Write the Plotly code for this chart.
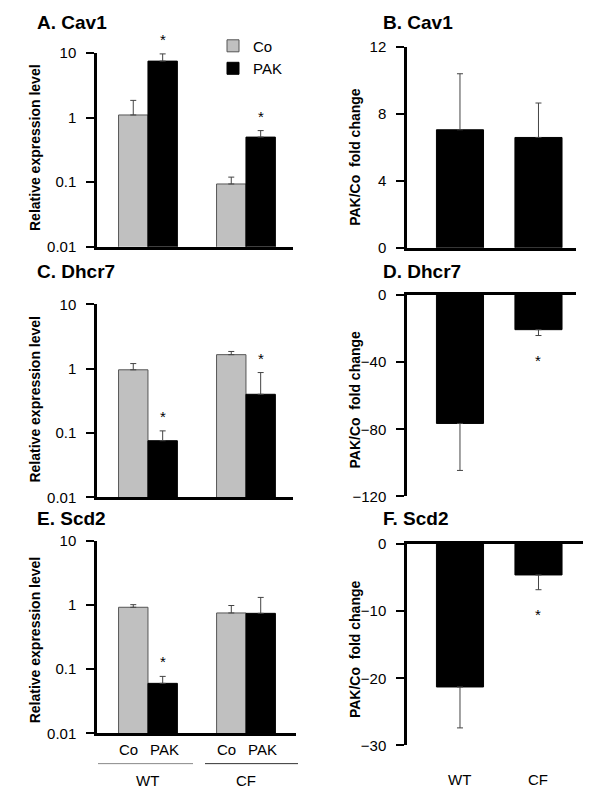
import math
import plotly.graph_objects as go

# ---------------- data ----------------
groups = ["WT", "CF"]
treatments = ["Co", "PAK"]

cav1_co = [1.1, 0.094]
cav1_co_err = [0.75, 0.026]
cav1_pak = [7.5, 0.50]
cav1_pak_err = [2.2, 0.13]

dhcr7_co = [0.96, 1.65]
dhcr7_co_err = [0.24, 0.20]
dhcr7_pak = [0.076, 0.40]
dhcr7_pak_err = [0.032, 0.47]

scd2_co = [0.92, 0.75]
scd2_co_err = [0.09, 0.23]
scd2_pak = [0.060, 0.74]
scd2_pak_err = [0.017, 0.57]

cav1_fold = [7.06, 6.6]
cav1_fold_err = [3.35, 2.06]
dhcr7_fold = [-76.5, -20.6]
dhcr7_fold_err = [28.0, 3.5]
scd2_fold = [-21.3, -4.6]
scd2_fold_err = [6.1, 2.2]

# significance (*) flags
cav1_pak_sig = [True, True]
dhcr7_pak_sig = [True, True]
scd2_pak_sig = [True, False]
cav1_fold_sig = [False, False]
dhcr7_fold_sig = [False, True]
scd2_fold_sig = [False, True]

log_ticks = [0.01, 0.1, 1, 10]
log_ticktext = ["0.01", "0.1", "1", "10"]

# ---------------- style ----------------
W, H = 600, 801
FONT = "Liberation Sans, Arial, sans-serif"
GRAY = "#c0c0c0"
ERRC = "#444444"
BARGAP = 0.4
OFF = (1 - BARGAP) / 4


def px_x(p):
    return p / W


def px_y(p):
    return 1 - p / H


fig = go.Figure()


def add_pair(co, co_err, pak, pak_err, ax, legend):
    xa, ya = ax
    fig.add_trace(go.Bar(
        x=groups, y=co, name="Co", marker=dict(color=GRAY, line=dict(color="#555555", width=1)),
        error_y=dict(type="data", array=co_err, arrayminus=[0] * len(co), symmetric=False,
                     color=ERRC, thickness=1, width=3),
        xaxis=xa, yaxis=ya, showlegend=legend))
    fig.add_trace(go.Bar(
        x=groups, y=pak, name="PAK", marker=dict(color="black", line=dict(color="black", width=1)),
        error_y=dict(type="data", array=pak_err, arrayminus=[0] * len(pak), symmetric=False,
                     color=ERRC, thickness=1, width=3),
        xaxis=xa, yaxis=ya, showlegend=legend))


def add_fold(vals, errs, ax):
    xa, ya = ax
    up = [e if v > 0 else 0 for v, e in zip(vals, errs)]
    down = [e if v < 0 else 0 for v, e in zip(vals, errs)]
    fig.add_trace(go.Bar(
        x=groups, y=vals, name="PAK/Co", marker=dict(color="black", line=dict(color="black", width=1)),
        error_y=dict(type="data", array=up, arrayminus=down, symmetric=False,
                     color=ERRC, thickness=1, width=3),
        xaxis=xa, yaxis=ya, showlegend=False))


add_pair(cav1_co, cav1_co_err, cav1_pak, cav1_pak_err, ("x", "y"), True)
add_fold(cav1_fold, cav1_fold_err, ("x2", "y2"))
add_pair(dhcr7_co, dhcr7_co_err, dhcr7_pak, dhcr7_pak_err, ("x3", "y3"), False)
add_fold(dhcr7_fold, dhcr7_fold_err, ("x4", "y4"))
add_pair(scd2_co, scd2_co_err, scd2_pak, scd2_pak_err, ("x5", "y5"), False)
add_fold(scd2_fold, scd2_fold_err, ("x6", "y6"))

annotations = []
shapes = []


def star_log(vals, errs, sig, xref, yref):
    for i, (v, e, s) in enumerate(zip(vals, errs, sig)):
        if s:
            annotations.append(dict(x=i + OFF, y=math.log10(v + e), xref=xref, yref=yref,
                                    text="*", showarrow=False, yanchor="bottom", yshift=4,
                                    font=dict(size=15, color="black", family=FONT)))


def star_fold(vals, errs, sig, xref, yref):
    for i, (v, e, s) in enumerate(zip(vals, errs, sig)):
        if s:
            if v < 0:
                annotations.append(dict(x=i, y=v - e, xref=xref, yref=yref, text="*",
                                        showarrow=False, yanchor="top", yshift=-14,
                                        font=dict(size=15, color="black", family=FONT)))
            else:
                annotations.append(dict(x=i, y=v + e, xref=xref, yref=yref, text="*",
                                        showarrow=False, yanchor="bottom", yshift=4,
                                        font=dict(size=15, color="black", family=FONT)))


star_log(cav1_pak, cav1_pak_err, cav1_pak_sig, "x", "y")
star_log(dhcr7_pak, dhcr7_pak_err, dhcr7_pak_sig, "x3", "y3")
star_log(scd2_pak, scd2_pak_err, scd2_pak_sig, "x5", "y5")
star_fold(cav1_fold, cav1_fold_err, cav1_fold_sig, "x2", "y2")
star_fold(dhcr7_fold, dhcr7_fold_err, dhcr7_fold_sig, "x4", "y4")
star_fold(scd2_fold, scd2_fold_err, scd2_fold_sig, "x6", "y6")

# panel titles
titles = [("A. Cav1", 35, 14), ("B. Cav1", 381, 14), ("C. Dhcr7", 35, 268),
          ("D. Dhcr7", 381, 268), ("E. Scd2", 35, 521), ("F. Scd2", 381, 521)]
for t, xp, yp in titles:
    annotations.append(dict(x=px_x(xp), y=px_y(yp), xref="paper", yref="paper", text="<b>%s</b>" % t,
                            showarrow=False, xanchor="left", yanchor="middle",
                            font=dict(size=19, color="black", family=FONT)))

# y titles
ytitles = [("Relative expression level", 35, 142), ("Relative expression level", 35, 399),
           ("Relative expression level", 35, 645), ("PAK/Co  fold change", 355, 151),
           ("PAK/Co  fold change", 355, 399), ("PAK/Co  fold change", 355, 654)]
for t, xp, yp in ytitles:
    annotations.append(dict(x=px_x(xp), y=px_y(yp), xref="paper", yref="paper", text="<b>%s</b>" % t,
                            showarrow=False, textangle=-90, xanchor="center", yanchor="middle",
                            font=dict(size=14, color="black", family=FONT)))

# Co / PAK labels under E
lab_font = dict(size=15, color="black", family=FONT)
for i, g in enumerate(groups):
    annotations.append(dict(x=i - OFF, y=px_y(757), xref="x5", yref="paper", text=treatments[0],
                            showarrow=False, xanchor="center", yanchor="middle", xshift=-5,
                            font=lab_font))
    annotations.append(dict(x=i + OFF, y=px_y(757), xref="x5", yref="paper", text=treatments[1],
                            showarrow=False, xanchor="center", yanchor="middle", xshift=2,
                            font=lab_font))
    annotations.append(dict(x=i, y=px_y(788), xref="x5", yref="paper", text=g,
                            showarrow=False, xanchor="center", yanchor="middle", font=lab_font))
    annotations.append(dict(x=i, y=px_y(787), xref="x6", yref="paper", text=g,
                            showarrow=False, xanchor="center", yanchor="middle", font=lab_font))

shapes.append(dict(type="line", xref="paper", yref="paper", x0=px_x(98), x1=px_x(193),
                   y0=px_y(771), y1=px_y(771), line=dict(color="#888888", width=1)))
shapes.append(dict(type="line", xref="paper", yref="paper", x0=px_x(205), x1=px_x(298),
                   y0=px_y(771), y1=px_y(771), line=dict(color="#333333", width=1)))

AXL = dict(showline=True, linecolor="black", linewidth=2.5, zeroline=False, showgrid=False,
           fixedrange=True)
tickfont = dict(size=15, color="black", family=FONT)


def log_y(dom, xa):
    return dict(AXL, type="log", range=[-2, 1], domain=dom, anchor=xa, tickvals=log_ticks,
                ticktext=log_ticktext, ticks="outside", ticklen=8, tickwidth=2, tickcolor="black",
                tickfont=tickfont, ticklabelstandoff=7)


def lin_y(dom, xa, rng, dt):
    return dict(AXL, type="linear", range=rng, domain=dom, anchor=xa, dtick=dt, tick0=0,
                ticks="outside", ticklen=8, tickwidth=2, tickcolor="black",
                tickfont=tickfont, ticklabelstandoff=7)


def cat_x(dom, ya, rng, side="bottom"):
    return dict(AXL, type="category", domain=dom, anchor=ya, range=rng, showticklabels=False,
                ticks="", side=side)


LX = [px_x(97), px_x(293)]
RX = [px_x(407), px_x(576)]
RXF = [px_x(407), px_x(583)]
LR = [-0.52, 1.48]
RR = [-0.675, 1.478]
RRF = [-0.675, 1.567]

fig.update_layout(
    width=W, height=H,
    margin=dict(l=0, r=0, t=0, b=0),
    paper_bgcolor="white", plot_bgcolor="white",
    barmode="group", bargap=BARGAP, bargroupgap=0,
    font=dict(family=FONT, color="black"),
    xaxis=cat_x(LX, "y", LR),
    yaxis=log_y([px_y(243), px_y(45)], "x"),
    xaxis2=cat_x(RX, "y2", RR),
    yaxis2=lin_y([px_y(244), px_y(39)], "x2", [0, 12], 4),
    xaxis3=cat_x(LX, "y3", LR),
    yaxis3=log_y([px_y(499), px_y(301.7)], "x3"),
    xaxis4=cat_x(RX, "y4", RR, side="top"),
    yaxis4=lin_y([px_y(498), px_y(292.3)], "x4", [-120, 0], 40),
    xaxis5=cat_x([px_x(97), px_x(296)], "y5", [-0.52, 1.51]),
    yaxis5=log_y([px_y(740), px_y(543.3)], "x5"),
    xaxis6=cat_x(RXF, "y6", RRF, side="top"),
    yaxis6=lin_y([px_y(752.3), px_y(546.7)], "x6", [-30, 0], 10),
    legend=dict(x=px_x(213), y=px_y(21), xanchor="left", yanchor="top",
                font=dict(size=15, color="black", family=FONT), bgcolor="rgba(0,0,0,0)",
                tracegroupgap=0, itemwidth=30),
    annotations=annotations,
    shapes=shapes,
)

fig.write_html("out.html", config={"displayModeBar": False},
               post_script="document.body.style.margin='0';document.body.style.overflow='hidden';")
